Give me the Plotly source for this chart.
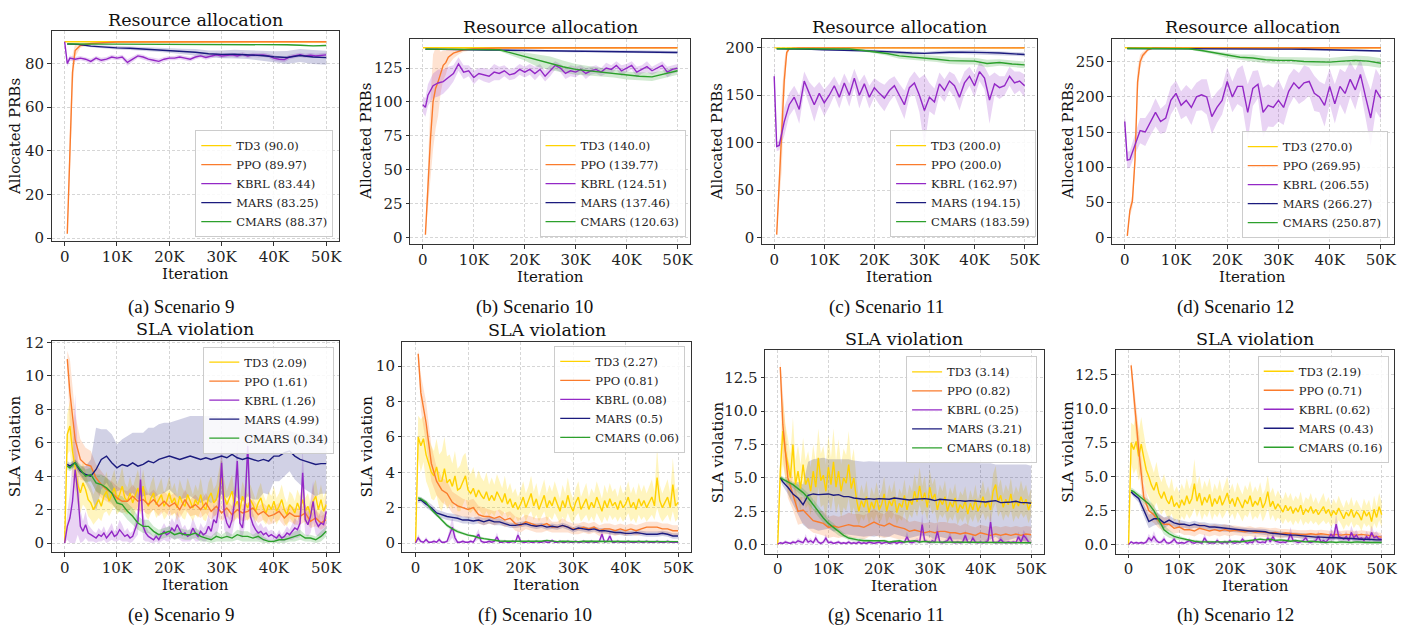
import plotly.graph_objects as go

W, H = 1413, 633

# ---------------- x grids (iterations) ----------------
X_FINE = [0, 500, 1000, 1500, 2000, 2500, 3000, 3500, 4000, 4500,
          5000, 5500, 6000, 6500, 7000, 7500, 8000, 8500, 9000, 9500,
          10000, 10500, 11000, 11500, 12000, 12500, 13000, 13500, 14000, 14500,
          15000, 15500, 16000, 16500, 17000, 17500, 18000, 18500, 19000, 19500,
          20000, 20500, 21000, 21500, 22000, 22500, 23000, 23500, 24000, 24500,
          25000, 25500, 26000, 26500, 27000, 27500, 28000, 28500, 29000, 29500,
          30000, 30500, 31000, 31500, 32000, 32500, 33000, 33500, 34000, 34500,
          35000, 35500, 36000, 36500, 37000, 37500, 38000, 38500, 39000, 39500,
          40000, 40500, 41000, 41500, 42000, 42500, 43000, 43500, 44000, 44500,
          45000, 45500, 46000, 46500, 47000, 47500, 48000, 48500, 49000, 49500,
          50000]
X_MID = [500,
         1000, 2000, 3000, 4000, 5000, 6000, 7000, 8000, 9000, 10000,
         11000, 12000, 13000, 14000, 15000, 16000, 17000, 18000, 19000, 20000,
         21000, 22000, 23000, 24000, 25000, 26000, 27000, 28000, 29000, 30000,
         31000, 32000, 33000, 34000, 35000, 36000, 37000, 38000, 39000, 40000,
         41000, 42000, 43000, 44000, 45000, 46000, 47000, 48000, 49000, 50000]
X_TOPK = [0, 500,
          1000, 2000, 3000, 4000, 5000, 6000, 7000, 8000, 9000, 10000,
          11000, 12000, 13000, 14000, 15000, 16000, 17000, 18000, 19000, 20000,
          21000, 22000, 23000, 24000, 25000, 26000, 27000, 28000, 29000, 30000,
          31000, 32000, 33000, 34000, 35000, 36000, 37000, 38000, 39000, 40000,
          41000, 42000, 43000, 44000, 45000, 46000, 47000, 48000, 49000, 50000]
X_COARSE = [500, 2500, 5000, 7500, 10000, 12500, 15000, 17500, 20000, 22500, 25000,
            27500, 30000, 32500, 35000, 37500, 40000, 42500, 45000, 47500, 50000]
X_CONST = [0, 50000]

X_TICKS = [0, 10000, 20000, 30000, 40000, 50000]
X_TICK_LABELS = ["0", "10K", "20K", "30K", "40K", "50K"]

METHODS = ["TD3", "PPO", "KBRL", "MARS", "CMARS"]
AVG_A = ["90.0", "89.97", "83.44", "83.25", "88.37"]
AVG_B = ["140.0", "139.77", "124.51", "137.46", "120.63"]
AVG_C = ["200.0", "200.0", "162.97", "194.15", "183.59"]
AVG_D = ["270.0", "269.95", "206.55", "266.27", "250.87"]
AVG_E = ["2.09", "1.61", "1.26", "4.99", "0.34"]
AVG_F = ["2.27", "0.81", "0.08", "0.5", "0.06"]
AVG_G = ["3.14", "0.82", "0.25", "3.21", "0.18"]
AVG_H = ["2.19", "0.71", "0.62", "0.43", "0.16"]

# ================= Panel (a) Scenario 9, resource =================
A_TD3 = [90.0, 90.0]
A_PPO_X = [500, 1000, 1500, 2000, 3000, 5000, 8000, 10000, 50000]
A_PPO = [2, 40, 76, 86, 88.3, 89.2, 89.7, 89.9, 90]
A_PPO_SD = [0.5, 12, 8, 3, 1, 0.5, 0.2, 0.1, 0]
A_KBRL = [90, 80,
          82.5, 82, 82.5, 82, 81, 82.5, 81.5, 82, 83, 82.5,
          83, 80.5, 82, 83.5, 83, 82, 81.5, 81, 82, 82.5,
          82.5, 83, 82.5, 82, 83, 83.5, 82.8, 83.5, 84, 83.5,
          83.8, 84, 83.5, 84.2, 83.5, 84, 83.8, 84, 83.5, 82.5,
          82, 81.8, 83, 83.5, 84, 83.5, 83.8, 83.5, 83.8, 84]
A_KBRL_SD = [0.3, 1.5,
             1.2, 1, 1, 1, 1.2, 1, 1.2, 1, 1, 1,
             1, 1.5, 1.2, 1, 1, 1, 1.2, 1.2, 1, 1,
             1, 1, 1, 1, 1, 1, 1, 1, 1, 1,
             1, 1, 1, 1, 1, 1, 1, 1, 1, 1.2,
             1.2, 1.2, 1, 1, 1, 1, 1, 1, 1, 1]
A_MARS = [89, 88.8, 88, 87.5, 87.2, 87, 86.7, 86.4, 86, 85.6, 85.2,
          84.5, 84.2, 84.3, 84.1, 83.7, 83.1, 82.8, 83.7, 83, 82.7]
A_MARS_SD = [0.2, 0.3, 0.5, 0.6, 0.8, 0.8, 0.8, 1.0, 1.0, 1.2, 1.5,
             1.5, 1.8, 2.0, 2.0, 2.2, 2.5, 3.0, 3.0, 3.2, 3.2]
A_CMARS = [89, 88.9, 88.9, 88.9, 88.9, 88.9, 88.9, 88.9, 88.9, 88.9, 88.9,
           88.9, 88.9, 88.8, 88.8, 88.7, 88.7, 88.6, 88.4, 88.1, 88.3]
A_CMARS_SD = [0.2, 0.2, 0.2, 0.2, 0.2, 0.2, 0.2, 0.2, 0.2, 0.2, 0.2,
              0.2, 0.2, 0.2, 0.2, 0.2, 0.2, 0.2, 0.3, 0.3, 0.3]

# ================= Panel (b) Scenario 10, resource =================
B_TD3 = [140.0, 140.0]
B_PPO_X = [500, 1000, 1500, 2000, 2500, 3000, 3500, 4000, 4500, 5000, 6000, 7000, 8000, 10000, 15000, 50000]
B_PPO = [2, 40, 73, 100, 110, 115, 122, 127, 129, 133, 136, 137.5, 138.5, 139.2, 139.8, 140]
B_PPO_SD = [1, 20, 30, 35, 30, 25, 15, 11, 9, 6, 4, 2.5, 1.5, 0.8, 0.2, 0]
B_KBRL = [98, 96,
          105, 112, 114, 115, 118, 121, 128, 122, 123, 118,
          121, 120, 119, 122, 121, 123, 120, 121, 124, 122,
          124, 121, 124, 119, 123, 127, 125, 121, 123, 122,
          124, 121, 123, 124, 122, 125, 124, 127, 123, 125,
          127, 122, 124, 126, 123, 125, 127, 122, 124, 125]
B_KBRL_SD = [6, 7,
             8, 9, 10, 9, 8, 6, 5, 5, 4, 5,
             4, 5, 5, 6, 5, 4, 4, 4, 4, 4,
             4, 5, 4, 4, 4, 3, 3, 4, 4, 4,
             3, 4, 3, 3, 3, 4, 3, 3, 4, 3,
             3, 4, 3, 4, 3, 3, 3, 4, 3, 3]
B_MARS = [139, 138.8, 138.6, 138.5, 138.4, 138.3, 138.2, 138.1, 138, 137.9, 137.8,
          137.6, 137.3, 137.4, 137.5, 137.4, 137.3, 137.2, 137, 136.7, 136.5]
B_MARS_SD = [0.3, 0.4, 0.4, 0.5, 0.5, 0.5, 0.5, 0.6, 0.6, 0.6, 0.7,
             0.7, 0.8, 0.8, 0.8, 0.8, 0.9, 0.9, 1.0, 1.0, 1.0]
B_CMARS = [139, 139, 139, 139, 139, 138.8, 138.5, 136, 133.5, 130.5, 128.5,
           126, 124, 123, 122, 121, 119.5, 119, 118.5, 120.5, 123]
B_CMARS_SD = [0.3, 0.3, 0.3, 0.3, 0.4, 0.5, 1, 2, 3, 4.5, 5,
              4.5, 4, 3.5, 3, 3, 3, 3, 3, 3, 3]

# ================= Panel (c) Scenario 11, resource =================
C_TD3 = [200.0, 200.0]
C_PPO_X = [500, 1000, 1500, 2000, 2500, 3000, 5000, 50000]
C_PPO = [3, 55, 110, 165, 195, 199, 200, 200]
C_PPO_SD = [1, 15, 40, 20, 5, 1, 0, 0]
C_KBRL = [170, 96,
          97, 122, 140, 148, 135, 165, 152, 140, 152, 142,
          150, 160, 148, 163, 150, 168, 150, 162, 148, 158,
          152, 147, 155, 160, 150, 140, 158, 163, 150, 134,
          148, 143, 162, 155, 165, 160, 148, 163, 170, 160,
          175, 168, 145, 162, 158, 160, 170, 163, 165, 160]
C_KBRL_SD = [15, 5,
             5, 15, 12, 12, 15, 10, 12, 18, 12, 14,
             12, 10, 12, 10, 12, 10, 14, 10, 12, 10,
             12, 14, 12, 10, 12, 15, 10, 12, 18, 38,
             15, 14, 12, 12, 10, 12, 14, 12, 10, 12,
             10, 12, 25, 12, 12, 10, 10, 12, 10, 12]
C_MARS = [199, 199, 198.8, 198.5, 198, 197.8, 197.5, 197, 196.5, 196, 195,
          194.5, 194.2, 195, 195.3, 195.5, 195.5, 195, 194.5, 193.5, 193]
C_MARS_SD = [0.3, 0.4, 0.5, 0.6, 0.8, 1, 1, 1.2, 1.5, 1.5, 1.5,
             1.5, 1.5, 1.8, 2, 2, 2, 2, 2, 2, 2]
C_CMARS = [199, 199, 199, 199, 199, 199, 198.8, 197.5, 196, 194, 191.5,
           190.5, 189, 188, 186.5, 186, 186, 183.5, 184.5, 183, 182]
C_CMARS_SD = [0.3, 0.3, 0.3, 0.3, 0.3, 0.4, 0.6, 1, 1.5, 2, 3,
              3, 3, 3, 3.5, 3.5, 3.5, 4, 3.5, 3.5, 3.5]

# ================= Panel (d) Scenario 12, resource =================
D_TD3 = [270.0, 270.0]
D_PPO_X = [500, 1000, 1500, 2000, 2500, 3000, 3500, 4500, 5500, 50000]
D_PPO = [2, 38, 52, 110, 221, 250, 259, 267, 269.5, 270]
D_PPO_SD = [1, 8, 10, 15, 20, 10, 5, 2, 0.5, 0]
D_KBRL = [165, 110,
          111, 133, 152, 150, 163, 178, 165, 170, 195, 205,
          188, 195, 185, 200, 203, 200, 172, 185, 195, 222,
          200, 215, 215, 178, 212, 218, 178, 188, 185, 195,
          185, 208, 220, 212, 220, 222, 205, 200, 188, 215,
          190, 215, 205, 225, 210, 232, 200, 170, 210, 198]
D_KBRL_SD = [15, 12,
             12, 15, 18, 20, 18, 20, 18, 20, 20, 18,
             20, 22, 25, 20, 22, 25, 25, 22, 20, 20,
             22, 25, 30, 40, 25, 20, 35, 30, 28, 30,
             25, 22, 20, 22, 25, 20, 25, 22, 30, 25,
             28, 25, 30, 25, 28, 22, 30, 40, 30, 30]
D_MARS = [269, 269, 269, 269, 269, 269, 269, 269, 269, 268.8, 268.5,
          268.3, 268, 268, 267.8, 267.5, 267.3, 267, 266.7, 266.2, 265.5]
D_MARS_SD = [0.3, 0.3, 0.3, 0.3, 0.3, 0.3, 0.4, 0.4, 0.5, 0.5, 0.6,
             0.6, 0.7, 0.7, 0.8, 0.8, 0.9, 0.9, 1, 1, 1]
D_CMARS = [269, 269, 269, 269, 269, 268.5, 266, 263, 259, 256.5, 255.5,
           253, 252, 252, 250.5, 250, 249.5, 251, 252, 251, 248]
D_CMARS_SD = [0.3, 0.3, 0.3, 0.3, 0.3, 0.8, 1.5, 2.5, 3.5, 4, 5,
              5, 5, 5, 5.5, 6, 6, 6.5, 7, 7, 7]

# ================= Panel (e) Scenario 9, SLA =================
E_TD3 = [0, 6.5, 7.0, 5.5, 4.5, 3.5, 3.0, 3.6, 3.2, 2.6,
         2.4, 2.0, 2.3, 2.6, 2.2, 2.8, 3.1, 2.5, 2.9, 3.3,
         2.6, 2.9, 3.4, 2.7, 2.5, 3.0, 2.4, 2.8, 3.3, 2.6,
         3.4, 2.5, 2.2, 2.7, 3.0, 2.3, 2.6, 2.9, 2.2, 2.5,
         3.0, 2.4, 2.7, 2.1, 2.8, 2.4, 2.2, 2.9, 2.5, 2.1,
         2.6, 2.3, 2.9, 2.2, 2.0, 2.7, 3.0, 2.4, 2.6, 3.3,
         3.9, 2.8, 2.3, 2.7, 3.1, 2.2, 2.5, 2.0, 2.8, 2.4,
         2.1, 2.6, 2.3, 1.9, 2.4, 2.7, 2.1, 1.8, 2.3, 2.0,
         2.5, 1.9, 2.2, 2.6, 2.0, 1.7, 2.3, 2.1, 1.8, 2.4,
         2.0, 2.6, 1.9, 2.2, 1.7, 2.5, 2.8, 2.0, 2.6, 1.9,
         2.3]
E_TD3_SD = [0, 1.2, 1.5, 1.5, 1.3, 1.2, 1.2, 1.3, 1.1, 1.0,
            1.0, 0.9, 1.0, 1.1, 0.9, 1.0, 1.2, 0.9, 1.0, 1.1,
            0.9, 1.0, 1.2, 0.9, 0.8, 1.0, 0.9, 1.0, 1.1, 0.9,
            1.0, 0.9, 0.8, 0.9, 1.0, 0.8, 0.9, 1.0, 0.8, 0.9,
            1.0, 0.8, 0.9, 0.8, 1.0, 0.9, 0.8, 1.0, 0.9, 0.8,
            0.9, 0.8, 1.0, 0.8, 0.7, 0.9, 1.0, 0.8, 0.9, 1.1,
            1.3, 1.0, 0.8, 0.9, 1.0, 0.8, 0.9, 0.7, 0.9, 0.8,
            0.8, 0.9, 0.8, 0.7, 0.8, 0.9, 0.8, 0.7, 0.8, 0.8,
            0.9, 0.8, 0.8, 0.9, 0.8, 0.7, 0.8, 0.8, 0.7, 0.8,
            0.8, 0.9, 0.8, 0.8, 0.7, 0.9, 1.0, 0.8, 0.9, 0.8,
            0.9]
E_KBRL = [0, 1.0, 1.5, 2.5, 4.4, 3.0, 1.0, 0.7, 1.1, 0.6,
          0.5, 0.4, 0.3, 0.5, 0.4, 0.6, 0.3, 0.5, 0.7, 0.4,
          0.5, 0.8, 0.6, 0.4, 0.5, 0.3, 0.4, 0.8, 1.3, 3.8,
          1.0, 0.6, 0.4, 0.3, 0.2, 0.4, 0.2, 0.5, 0.7, 0.5,
          0.6, 0.9, 0.7, 1.1, 0.8, 0.5, 0.6, 0.4, 0.5, 0.9,
          0.6, 0.4, 0.7, 0.5, 0.6, 1.0, 0.7, 1.4, 1.2, 2.2,
          4.8, 1.8, 1.2, 0.9, 1.4, 2.5, 4.9, 1.2, 0.9, 2.4,
          5.8, 1.6, 1.1, 0.8, 0.6, 0.7, 0.5, 0.6, 0.4, 0.5,
          0.4, 0.3, 0.5, 0.3, 0.4, 0.6, 0.5, 0.7, 0.9, 0.8,
          1.2, 4.2, 1.4, 1.1, 1.6, 2.5, 1.3, 1.0, 1.2, 1.1,
          1.9]
E_KBRL_SD = [0, 0.8, 1.5, 2.5, 4.5, 2.5, 1.0, 0.6, 0.8, 0.5,
             0.4, 0.3, 0.3, 0.4, 0.3, 0.4, 0.3, 0.4, 0.5, 0.3,
             0.4, 0.6, 0.5, 0.3, 0.4, 0.3, 0.3, 0.5, 0.8, 1.0,
             0.8, 0.5, 0.3, 0.3, 0.2, 0.3, 0.2, 0.4, 0.5, 0.4,
             0.5, 0.6, 0.5, 0.8, 0.6, 0.4, 0.5, 0.3, 0.4, 0.6,
             0.5, 0.3, 0.5, 0.4, 0.5, 0.7, 0.5, 0.9, 0.8, 1.2,
             1.5, 1.0, 0.8, 0.6, 0.9, 1.2, 1.2, 0.8, 0.6, 1.3,
             1.0, 1.0, 0.7, 0.5, 0.4, 0.5, 0.4, 0.4, 0.3, 0.3,
             0.3, 0.2, 0.3, 0.2, 0.3, 0.4, 0.3, 0.5, 0.6, 0.5,
             0.8, 1.5, 0.9, 0.7, 1.0, 1.2, 0.8, 0.6, 0.8, 0.7,
             1.0]
E_PPO = [11.0,
         9.0, 6.2, 5.0, 4.7, 4.6, 3.9, 3.5, 3.2, 3.0, 2.7,
         2.5, 2.5, 2.8, 2.5, 2.6, 2.3, 2.6, 2.2, 2.5, 2.2,
         2.4, 2.0, 2.6, 2.1, 2.3, 2.0, 2.4, 1.9, 2.2, 1.8,
         2.1, 1.7, 2.0, 1.8, 1.9, 2.1, 1.7, 1.9, 1.6, 1.7,
         1.9, 1.5, 1.8, 1.6, 1.6, 1.8, 1.3, 1.5, 1.2, 1.4]
E_PPO_SD = [0.5,
            2.0, 1.5, 1.2, 1.0, 0.9, 0.8, 0.8, 0.7, 0.7, 0.7,
            0.7, 0.6, 0.7, 0.6, 0.7, 0.6, 0.6, 0.6, 0.6, 0.6,
            0.6, 0.5, 0.6, 0.5, 0.6, 0.5, 0.6, 0.5, 0.5, 0.5,
            0.5, 0.5, 0.5, 0.5, 0.5, 0.5, 0.5, 0.5, 0.5, 0.5,
            0.5, 0.5, 0.5, 0.5, 0.5, 0.5, 0.4, 0.5, 0.4, 0.4]
E_MARS = [4.7,
          4.6, 4.8, 4.3, 4.1, 4.0, 4.4, 5.0, 5.2, 4.8, 4.5,
          4.7, 4.6, 4.8, 4.6, 4.7, 4.9, 4.8, 5.0, 5.1, 5.2,
          5.1, 5.0, 5.1, 5.2, 5.1, 5.0, 5.1, 5.0, 5.1, 5.2,
          5.1, 5.3, 5.1, 5.0, 5.1, 5.0, 4.9, 5.0, 4.9, 5.2,
          5.2, 5.4, 5.5, 5.2, 5.0, 4.9, 4.8, 4.7, 4.75, 4.75]
E_MARS_SD = [0.2,
             0.2, 0.2, 0.3, 0.5, 1.0, 2.5, 1.8, 1.6, 1.7, 1.4,
             1.5, 1.8, 1.8, 2.0, 1.9, 2.0, 2.1, 2.1, 2.1, 2.0,
             2.2, 2.4, 2.4, 2.4, 2.5, 2.6, 2.5, 2.6, 2.5, 2.3,
             2.4, 2.3, 2.4, 2.5, 2.3, 2.4, 2.3, 2.0, 2.0, 1.5,
             1.5, 1.4, 1.2, 1.4, 1.5, 1.7, 1.8, 1.9, 1.8, 1.8]
E_CMARS = [4.6,
           4.5, 4.8, 4.4, 4.0, 4.1, 3.6, 3.5, 3.3, 3.0, 2.4,
           2.3, 1.9, 1.6, 1.2, 1.0, 1.0, 0.7, 0.5, 0.6, 0.7,
           0.5, 0.6, 0.5, 0.5, 0.6, 0.4, 0.3, 0.2, 0.4, 0.3,
           0.4, 0.3, 0.5, 0.4, 0.4, 0.3, 0.4, 0.2, 0.1, 0.1,
           0.2, 0.2, 0.3, 0.4, 0.5, 0.3, 0.3, 0.2, 0.4, 0.7]
E_CMARS_SD = [0.2,
              0.2, 0.2, 0.3, 0.4, 0.4, 0.5, 0.6, 0.6, 0.6, 0.5,
              0.5, 0.5, 0.5, 0.4, 0.4, 0.4, 0.3, 0.3, 0.3, 0.3,
              0.3, 0.3, 0.3, 0.3, 0.3, 0.3, 0.2, 0.2, 0.3, 0.2,
              0.3, 0.2, 0.3, 0.3, 0.3, 0.2, 0.3, 0.2, 0.1, 0.1,
              0.2, 0.2, 0.2, 0.3, 0.3, 0.2, 0.2, 0.2, 0.3, 0.3]

# ================= Panel (f) Scenario 10, SLA =================
F_TD3 = [0, 6.0, 5.5, 5.9, 5.0, 4.5, 4.0, 3.8, 4.3, 3.5,
         3.5, 4.2, 3.4, 3.6, 3.2, 3.8, 3.0, 3.1, 3.5, 3.8,
         3.0, 2.8, 3.1, 2.6, 3.0, 2.7, 2.5, 2.9, 2.4, 2.7,
         2.4, 2.9, 2.6, 2.3, 2.8, 2.2, 2.5, 2.0, 2.3, 1.9,
         2.2, 2.6, 2.0, 2.4, 2.8, 2.1, 2.5, 1.9, 2.3, 2.7,
         2.0, 2.4, 2.1, 2.6, 2.2, 1.8, 2.4, 2.0, 2.7, 2.1,
         1.8, 2.3, 2.6, 1.9, 2.2, 2.5, 1.9, 2.3, 2.0, 2.6,
         2.2, 1.8, 2.4, 2.0, 2.5, 2.1, 2.3, 1.9, 2.4, 2.0,
         2.2, 2.6, 2.0, 2.3, 1.9, 2.5, 2.1, 2.4, 2.0, 2.3,
         2.6, 2.1, 3.7, 2.4, 2.0, 2.3, 2.6, 2.0, 3.3, 2.1,
         2.3]
F_TD3_SD = [0, 1.2, 1.5, 1.3, 1.5, 1.4, 1.5, 1.4, 1.6, 1.5,
            1.7, 1.8, 1.5, 1.4, 1.3, 1.4, 1.2, 1.3, 1.4, 1.3,
            1.2, 1.1, 1.2, 1.0, 1.1, 1.0, 1.0, 1.1, 0.9, 1.0,
            0.9, 1.0, 0.9, 0.8, 1.0, 0.8, 0.9, 0.8, 0.8, 0.7,
            0.8, 0.9, 0.8, 0.8, 1.0, 0.8, 0.9, 0.7, 0.8, 0.9,
            0.8, 0.9, 0.8, 0.9, 0.8, 0.7, 0.9, 0.8, 1.0, 0.8,
            0.7, 0.8, 0.9, 0.7, 0.8, 0.9, 0.7, 0.8, 0.8, 0.9,
            0.8, 0.7, 0.9, 0.8, 0.9, 0.8, 0.8, 0.7, 0.9, 0.8,
            0.8, 0.9, 0.8, 0.9, 0.8, 0.9, 0.8, 0.9, 0.8, 0.9,
            1.0, 0.8, 1.7, 0.9, 0.8, 0.9, 1.0, 0.8, 1.5, 0.9,
            0.9]
F_KBRL = [0, 0.3, 0.1, 0.05, 0.2, 0.05, 0.05, 0.1, 0.05, 0.2,
          0.05, 0.05, 0.1, 0.5, 0.9, 0.3, 0.05, 0.05, 0.1, 0.05,
          0.05, 0.1, 0.05, 0.3, 0.5, 0.1, 0.05, 0.05, 0.1, 0.05,
          0.1, 0.35, 0.05, 0.05, 0.1, 0.05, 0.05, 0.1, 0.05, 0.45,
          0.1, 0.05, 0.05, 0.1, 0.05, 0.05, 0.1, 0.05, 0.05, 0.1,
          0.05, 0.05, 0.15, 0.05, 0.05, 0.1, 0.05, 0.05, 0.1, 0.05,
          0.05, 0.1, 0.05, 0.05, 0.1, 0.05, 0.05, 0.1, 0.05, 0.05,
          0.1, 0.5, 0.05, 0.1, 0.4, 0.05, 0.05, 0.1, 0.05, 0.05,
          0.05, 0.1, 0.05, 0.05, 0.05, 0.1, 0.05, 0.05, 0.1, 0.05,
          0.05, 0.05, 0.1, 0.05, 0.05, 0.05, 0.1, 0.05, 0.05, 0.05,
          0.05]
F_KBRL_SD = [0, 0.2, 0.1, 0.05, 0.15, 0.05, 0.05, 0.1, 0.05, 0.15,
             0.05, 0.05, 0.1, 0.4, 0.6, 0.3, 0.05, 0.05, 0.1, 0.05,
             0.05, 0.1, 0.05, 0.2, 0.3, 0.1, 0.05, 0.05, 0.1, 0.05,
             0.1, 0.25, 0.05, 0.05, 0.1, 0.05, 0.05, 0.1, 0.05, 0.3,
             0.1, 0.05, 0.05, 0.1, 0.05, 0.05, 0.1, 0.05, 0.05, 0.1,
             0.05, 0.05, 0.1, 0.05, 0.05, 0.1, 0.05, 0.05, 0.1, 0.05,
             0.05, 0.1, 0.05, 0.05, 0.1, 0.05, 0.05, 0.1, 0.05, 0.05,
             0.1, 0.3, 0.05, 0.1, 0.3, 0.05, 0.05, 0.1, 0.05, 0.05,
             0.05, 0.1, 0.05, 0.05, 0.05, 0.1, 0.05, 0.05, 0.1, 0.05,
             0.05, 0.05, 0.1, 0.05, 0.05, 0.05, 0.1, 0.05, 0.05, 0.05,
             0.05]
F_PPO = [10.7,
         8.5, 6.8, 4.5, 3.5, 3.0, 2.8, 2.3, 2.1, 2.0, 1.9,
         2.0, 1.6, 1.5, 1.5, 1.4, 1.5, 1.3, 1.4, 1.1, 1.0,
         1.2, 1.1, 1.0, 1.0, 1.1, 0.9, 0.9, 1.0, 0.9, 0.8,
         0.8, 0.9, 0.8, 0.9, 0.7, 0.8, 0.8, 0.7, 0.8, 0.7,
         0.8, 0.7, 0.8, 0.9, 0.9, 0.9, 0.8, 0.8, 0.7, 0.7]
F_PPO_SD = [0.3,
            1.0, 1.2, 1.0, 0.8, 0.7, 0.7, 0.6, 0.6, 0.5, 0.5,
            0.5, 0.5, 0.5, 0.4, 0.4, 0.4, 0.4, 0.4, 0.4, 0.4,
            0.4, 0.4, 0.4, 0.4, 0.4, 0.3, 0.3, 0.4, 0.3, 0.3,
            0.3, 0.3, 0.3, 0.3, 0.3, 0.3, 0.3, 0.3, 0.3, 0.3,
            0.3, 0.3, 0.3, 0.3, 0.3, 0.3, 0.3, 0.3, 0.3, 0.3]
F_MARS = [2.4,
          2.45, 2.2, 2.0, 1.7, 1.6, 1.5, 1.45, 1.4, 1.3, 1.3,
          1.25, 1.3, 1.2, 1.3, 1.2, 1.2, 1.1, 1.0, 1.0, 1.05,
          1.1, 1.0, 0.95, 1.0, 0.9, 0.95, 0.9, 1.0, 0.9, 0.75,
          0.85, 0.8, 0.75, 0.8, 0.7, 0.7, 0.65, 0.6, 0.6, 0.55,
          0.55, 0.6, 0.55, 0.5, 0.5, 0.5, 0.55, 0.5, 0.4, 0.4]
F_MARS_SD = [0.15,
             0.15, 0.2, 0.2, 0.2, 0.2, 0.2, 0.2, 0.2, 0.2, 0.2,
             0.2, 0.2, 0.2, 0.2, 0.2, 0.2, 0.15, 0.15, 0.15, 0.15,
             0.15, 0.15, 0.15, 0.15, 0.15, 0.15, 0.15, 0.15, 0.15, 0.15,
             0.15, 0.15, 0.15, 0.15, 0.15, 0.15, 0.15, 0.15, 0.15, 0.15,
             0.15, 0.15, 0.15, 0.15, 0.15, 0.15, 0.15, 0.15, 0.15, 0.15]
F_CMARS = [2.55,
           2.5, 2.3, 1.9, 1.6, 1.3, 1.0, 0.8, 0.65, 0.55, 0.45,
           0.4, 0.3, 0.25, 0.2, 0.15, 0.12, 0.1, 0.1, 0.1, 0.08,
           0.08, 0.1, 0.08, 0.1, 0.15, 0.1, 0.08, 0.1, 0.08, 0.1,
           0.08, 0.1, 0.1, 0.08, 0.1, 0.08, 0.08, 0.1, 0.08, 0.08,
           0.1, 0.08, 0.08, 0.1, 0.08, 0.08, 0.1, 0.08, 0.08, 0.08]
F_CMARS_SD = [0.1,
              0.1, 0.1, 0.1, 0.1, 0.1, 0.1, 0.1, 0.1, 0.08, 0.08,
              0.06, 0.06, 0.06, 0.06, 0.06, 0.06, 0.06, 0.06, 0.06, 0.06,
              0.05, 0.05, 0.05, 0.05, 0.05, 0.05, 0.05, 0.05, 0.05, 0.05,
              0.05, 0.05, 0.05, 0.05, 0.05, 0.05, 0.05, 0.05, 0.05, 0.05,
              0.05, 0.05, 0.05, 0.05, 0.05, 0.05, 0.05, 0.05, 0.05, 0.05]

# ================= Panel (g) Scenario 11, SLA =================
G_TD3 = [0, 5.5, 8.5, 7.0, 6.0, 5.0, 7.5, 4.5, 5.5, 4.2,
         6.0, 4.5, 5.0, 4.0, 5.5, 4.3, 6.5, 4.8, 5.2, 4.0,
         5.8, 4.5, 6.2, 4.3, 5.5, 4.0, 5.0, 4.6, 6.0, 4.2,
         5.0, 3.5, 2.5, 3.3, 2.8, 3.6, 2.4, 3.2, 2.7, 3.5,
         2.6, 3.0, 3.8, 2.5, 3.3, 2.9, 3.6, 2.4, 3.1, 2.8,
         3.7, 2.6, 3.4, 3.0, 4.0, 3.2, 4.4, 3.3, 3.9, 2.8,
         4.3, 3.4, 3.8, 2.6, 3.4, 3.0, 3.6, 2.5, 3.2, 2.8,
         3.5, 2.4, 3.0, 2.7, 3.3, 2.3, 3.1, 2.6, 3.4, 2.5,
         3.0, 3.6, 2.8, 3.3, 2.6, 4.0, 4.5, 3.2, 3.7, 2.8,
         3.4, 3.0, 3.8, 2.7, 3.3, 2.9, 3.6, 3.0, 3.4, 2.6,
         3.2]
G_TD3_SD = [0, 1.5, 2.5, 2.0, 2.0, 1.8, 2.0, 1.8, 2.0, 1.8,
            2.0, 1.8, 2.0, 1.8, 2.0, 1.9, 2.2, 2.0, 2.2, 2.0,
            2.4, 2.0, 2.5, 2.0, 2.4, 2.0, 2.2, 2.1, 2.5, 2.0,
            2.2, 1.5, 1.0, 1.2, 1.0, 1.2, 0.9, 1.1, 1.0, 1.2,
            1.0, 1.1, 1.3, 1.0, 1.2, 1.0, 1.2, 0.9, 1.1, 1.0,
            1.2, 1.0, 1.1, 1.0, 1.3, 1.1, 1.4, 1.1, 1.3, 1.0,
            1.3, 1.1, 1.2, 1.0, 1.1, 1.0, 1.2, 0.9, 1.1, 1.0,
            1.1, 0.9, 1.0, 1.0, 1.1, 0.9, 1.0, 0.9, 1.1, 0.9,
            1.0, 1.2, 1.0, 1.1, 1.0, 1.3, 1.4, 1.1, 1.2, 1.0,
            1.1, 1.0, 1.2, 1.0, 1.1, 1.0, 1.2, 1.0, 1.1, 1.0,
            1.0]
G_KBRL = [0.05, 0.15, 0.1, 0.2, 0.15, 0.1, 0.2, 0.15, 0.3, 0.2,
          0.15, 0.5, 0.2, 0.3, 0.15, 0.5, 0.2, 0.1, 0.2, 0.5,
          0.15, 0.2, 0.1, 0.15, 0.2, 0.1, 0.15, 0.1, 0.2, 0.1,
          0.15, 0.1, 0.2, 0.1, 0.15, 0.1, 0.2, 0.15, 0.1, 0.15,
          0.2, 0.1, 0.15, 0.2, 0.1, 0.15, 0.2, 0.1, 0.2, 0.15,
          0.2, 0.6, 0.2, 0.15, 0.2, 0.3, 0.2, 1.5, 0.3, 0.2,
          0.15, 0.3, 0.2, 1.0, 0.2, 0.15, 0.2, 0.3, 0.6, 0.2,
          0.15, 0.2, 0.15, 0.2, 0.7, 0.2, 0.15, 0.5, 0.2, 0.15,
          0.2, 0.15, 0.2, 0.3, 1.7, 0.2, 0.15, 0.2, 0.4, 0.2,
          0.15, 0.2, 0.15, 0.2, 0.15, 0.6, 0.2, 0.7, 0.5, 0.2,
          0.15]
G_KBRL_SD = [0, 0.1, 0.1, 0.15, 0.1, 0.1, 0.15, 0.1, 0.2, 0.15,
             0.1, 0.3, 0.15, 0.2, 0.1, 0.3, 0.15, 0.1, 0.15, 0.3,
             0.1, 0.15, 0.1, 0.1, 0.15, 0.1, 0.1, 0.1, 0.15, 0.1,
             0.1, 0.1, 0.15, 0.1, 0.1, 0.1, 0.15, 0.1, 0.1, 0.1,
             0.15, 0.1, 0.1, 0.15, 0.1, 0.1, 0.15, 0.1, 0.15, 0.1,
             0.15, 0.4, 0.15, 0.1, 0.15, 0.2, 0.15, 0.8, 0.2, 0.15,
             0.1, 0.2, 0.15, 0.6, 0.15, 0.1, 0.15, 0.2, 0.4, 0.15,
             0.1, 0.15, 0.1, 0.15, 0.4, 0.15, 0.1, 0.3, 0.15, 0.1,
             0.15, 0.1, 0.15, 0.2, 0.8, 0.15, 0.1, 0.15, 0.3, 0.15,
             0.1, 0.15, 0.1, 0.15, 0.1, 0.4, 0.15, 0.4, 0.3, 0.15,
             0.1]
G_PPO = [13.3,
         9.0, 5.0, 3.8, 2.5, 2.6, 2.2, 1.8, 1.7, 1.6, 1.3,
         1.4, 1.3, 1.4, 1.5, 1.4, 1.4, 1.3, 1.5, 1.7, 1.5,
         1.4, 1.6, 1.4, 1.3, 1.2, 1.0, 1.1, 1.0, 0.9, 1.0,
         0.9, 1.0, 1.0, 0.9, 0.9, 0.8, 0.9, 0.8, 0.7, 0.9,
         0.8, 0.7, 0.8, 0.7, 0.8, 0.7, 0.8, 0.7, 0.8, 0.75]
G_PPO_SD = [0.5,
            2.5, 1.5, 1.2, 1.0, 1.0, 1.0, 0.9, 0.9, 0.9, 0.8,
            0.8, 0.8, 0.8, 0.9, 0.9, 0.9, 0.9, 0.9, 1.0, 0.9,
            0.9, 1.0, 0.9, 0.9, 0.8, 0.7, 0.7, 0.7, 0.7, 0.7,
            0.7, 0.7, 0.7, 0.7, 0.7, 0.6, 0.7, 0.6, 0.6, 0.6,
            0.6, 0.6, 0.6, 0.6, 0.6, 0.6, 0.6, 0.6, 0.6, 0.6]
G_MARS = [5.0,
          4.7, 4.3, 3.8, 3.5, 3.0, 3.7, 3.8, 3.75, 3.8, 3.8,
          3.7, 3.75, 3.6, 3.6, 3.5, 3.45, 3.4, 3.45, 3.4, 3.45,
          3.4, 3.4, 3.5, 3.45, 3.4, 3.35, 3.4, 3.45, 3.45, 3.4,
          3.3, 3.4, 3.35, 3.3, 3.3, 3.3, 3.25, 3.3, 3.25, 3.2,
          3.2, 3.25, 3.3, 3.15, 3.15, 3.2, 3.25, 3.15, 3.15, 3.1]
G_MARS_SD = [0.2,
             0.3, 0.5, 0.8, 1.2, 1.5, 2.5, 2.6, 2.7, 2.7, 2.6,
             2.7, 2.7, 2.8, 2.8, 2.8, 2.8, 2.8, 2.8, 2.8, 2.75,
             2.8, 2.8, 2.7, 2.75, 2.8, 2.85, 2.8, 2.75, 2.75, 2.8,
             2.9, 2.8, 2.85, 2.9, 2.9, 2.9, 2.95, 2.9, 2.95, 2.9,
             2.9, 2.85, 2.7, 2.85, 2.85, 2.8, 2.75, 2.85, 2.85, 2.8]
G_CMARS = [5.0,
           4.9, 4.7, 4.5, 4.2, 3.9, 3.5, 3.0, 2.5, 2.0, 1.6,
           1.3, 0.95, 0.7, 0.5, 0.4, 0.35, 0.3, 0.3, 0.25, 0.25,
           0.3, 0.2, 0.25, 0.3, 0.2, 0.25, 0.3, 0.2, 0.25, 0.2,
           0.2, 0.15, 0.2, 0.18, 0.2, 0.15, 0.2, 0.15, 0.2, 0.18,
           0.15, 0.2, 0.15, 0.18, 0.2, 0.15, 0.15, 0.18, 0.15, 0.15]
G_CMARS_SD = [0.2,
              0.2, 0.2, 0.25, 0.3, 0.3, 0.35, 0.4, 0.4, 0.35, 0.3,
              0.3, 0.25, 0.2, 0.15, 0.15, 0.15, 0.1, 0.1, 0.1, 0.1,
              0.1, 0.1, 0.1, 0.1, 0.1, 0.1, 0.1, 0.1, 0.1, 0.1,
              0.1, 0.1, 0.1, 0.1, 0.1, 0.1, 0.1, 0.1, 0.1, 0.1,
              0.1, 0.1, 0.1, 0.1, 0.1, 0.1, 0.1, 0.1, 0.1, 0.1]

# ================= Panel (h) Scenario 12, SLA =================
H_TD3 = [0, 7.5, 7.0, 7.6, 6.5, 7.4, 6.4, 5.5, 5.0, 4.4,
         4.0, 4.6, 3.8, 3.4, 3.9, 3.3, 3.0, 3.6, 2.8, 3.1,
         2.7, 3.3, 2.9, 3.6, 3.0, 3.4, 4.5, 3.2, 3.8, 2.9,
         3.5, 3.1, 3.7, 2.8, 3.4, 3.0, 3.6, 2.9, 3.3, 3.8,
         3.0, 3.4, 2.8, 3.5, 3.1, 2.7, 3.3, 3.0, 3.6, 2.8,
         3.2, 2.9, 3.5, 2.7, 3.1, 3.9, 2.8, 3.2, 2.6, 3.0,
         2.7, 2.4, 2.9, 2.5, 2.8, 2.3, 2.7, 2.4, 2.9, 2.2,
         2.6, 2.4, 2.8, 2.3, 2.6, 2.2, 2.5, 2.8, 2.3, 2.6,
         2.1, 2.5, 2.2, 2.7, 2.3, 1.9, 2.4, 2.1, 2.6, 2.0,
         2.4, 2.2, 1.8, 2.5, 2.1, 2.4, 1.7, 2.6, 2.0, 2.8,
         2.2]
H_TD3_SD = [0, 1.5, 1.8, 2.0, 1.8, 2.0, 1.8, 1.6, 1.5, 1.4,
            1.3, 1.5, 1.3, 1.2, 1.3, 1.2, 1.1, 1.3, 1.1, 1.2,
            1.1, 1.2, 1.1, 1.3, 1.1, 1.2, 1.8, 1.2, 1.3, 1.1,
            1.2, 1.1, 1.2, 1.0, 1.1, 1.0, 1.2, 1.0, 1.1, 1.2,
            1.0, 1.1, 1.0, 1.1, 1.0, 1.0, 1.1, 1.0, 1.1, 1.0,
            1.1, 1.0, 1.1, 1.0, 1.0, 1.2, 1.0, 1.0, 0.9, 1.0,
            0.9, 0.9, 1.0, 0.9, 1.0, 0.9, 0.9, 0.9, 1.0, 0.8,
            0.9, 0.9, 1.0, 0.8, 0.9, 0.8, 0.9, 1.0, 0.8, 0.9,
            0.8, 0.9, 0.8, 0.9, 0.8, 0.8, 0.9, 0.8, 0.9, 0.8,
            0.9, 0.8, 0.8, 0.9, 0.8, 0.9, 0.8, 1.0, 0.8, 1.0,
            0.9]
H_KBRL = [0, 0.2, 0.1, 0.15, 0.1, 0.15, 0.1, 0.2, 0.5, 0.3,
          0.6, 0.3, 0.15, 0.2, 0.4, 0.15, 0.1, 0.2, 0.4, 0.15,
          0.1, 0.15, 0.1, 0.2, 0.3, 0.15, 0.1, 0.2, 0.15, 0.1,
          0.5, 0.2, 0.1, 0.15, 0.1, 0.3, 0.15, 0.1, 0.2, 0.1,
          0.3, 0.15, 0.1, 0.2, 0.15, 0.4, 0.2, 0.1, 0.2, 0.15,
          0.45, 0.2, 0.15, 0.2, 0.15, 0.5, 0.2, 0.6, 0.25, 0.2,
          0.15, 0.2, 0.15, 0.3, 0.8, 0.3, 0.2, 0.15, 0.2, 0.3,
          0.5, 0.2, 0.15, 0.2, 0.3, 0.6, 0.2, 0.3, 0.2, 0.4,
          0.8, 0.5, 1.5, 0.6, 0.5, 0.4, 0.6, 0.3, 0.9, 0.5,
          0.7, 0.4, 0.5, 0.3, 0.6, 0.4, 0.9, 0.5, 0.6, 0.4,
          0.4]
H_KBRL_SD = [0, 0.1, 0.1, 0.1, 0.1, 0.1, 0.1, 0.15, 0.3, 0.2,
             0.4, 0.2, 0.1, 0.15, 0.25, 0.1, 0.1, 0.15, 0.25, 0.1,
             0.1, 0.1, 0.1, 0.15, 0.2, 0.1, 0.1, 0.15, 0.1, 0.1,
             0.3, 0.15, 0.1, 0.1, 0.1, 0.2, 0.1, 0.1, 0.15, 0.1,
             0.2, 0.1, 0.1, 0.15, 0.1, 0.25, 0.15, 0.1, 0.15, 0.1,
             0.3, 0.15, 0.1, 0.15, 0.1, 0.3, 0.15, 0.35, 0.2, 0.15,
             0.1, 0.15, 0.1, 0.2, 0.5, 0.2, 0.15, 0.1, 0.15, 0.2,
             0.3, 0.15, 0.1, 0.15, 0.2, 0.4, 0.15, 0.2, 0.15, 0.3,
             0.5, 0.35, 0.8, 0.4, 0.35, 0.3, 0.4, 0.25, 0.5, 0.35,
             0.4, 0.3, 0.35, 0.25, 0.4, 0.3, 0.5, 0.35, 0.4, 0.3,
             0.3]
H_PPO = [13.2,
         11.0, 7.0, 3.5, 2.5, 2.2, 1.7, 1.5, 1.5, 1.2, 1.3,
         1.1, 1.1, 1.0, 1.2, 1.1, 1.0, 1.1, 1.0, 1.1, 1.0,
         1.05, 1.0, 0.95, 1.0, 0.9, 0.95, 0.9, 0.85, 0.9, 0.8,
         0.85, 0.8, 0.8, 0.75, 0.75, 0.8, 0.75, 0.8, 0.75, 0.7,
         0.75, 0.7, 0.75, 0.7, 0.7, 0.75, 0.7, 0.7, 0.65, 0.55]
H_PPO_SD = [0.3,
            1.0, 1.5, 1.0, 0.7, 0.6, 0.5, 0.5, 0.5, 0.4, 0.4,
            0.4, 0.4, 0.4, 0.4, 0.4, 0.4, 0.4, 0.4, 0.4, 0.4,
            0.35, 0.35, 0.35, 0.35, 0.35, 0.35, 0.35, 0.35, 0.35, 0.35,
            0.3, 0.3, 0.3, 0.3, 0.3, 0.3, 0.3, 0.3, 0.3, 0.3,
            0.3, 0.3, 0.3, 0.3, 0.3, 0.3, 0.3, 0.3, 0.3, 0.3]
H_MARS = [3.9,
          3.7, 3.4, 2.5, 1.7, 1.9, 1.9, 1.6, 1.8, 1.6, 1.5,
          1.5, 1.4, 1.5, 1.4, 1.4, 1.3, 1.3, 1.25, 1.2, 1.2,
          1.1, 1.1, 1.05, 1.0, 1.0, 1.0, 0.95, 0.85, 0.8, 0.75,
          0.75, 0.7, 0.7, 0.65, 0.6, 0.6, 0.55, 0.55, 0.5, 0.5,
          0.5, 0.45, 0.45, 0.45, 0.4, 0.4, 0.4, 0.35, 0.35, 0.35]
H_MARS_SD = [0.15,
             0.2, 0.3, 0.4, 0.5, 0.5, 0.4, 0.4, 0.35, 0.3, 0.3,
             0.25, 0.25, 0.25, 0.25, 0.25, 0.25, 0.25, 0.25, 0.25, 0.25,
             0.2, 0.2, 0.2, 0.2, 0.2, 0.2, 0.2, 0.2, 0.2, 0.2,
             0.2, 0.2, 0.2, 0.2, 0.2, 0.2, 0.2, 0.2, 0.2, 0.2,
             0.15, 0.15, 0.15, 0.15, 0.15, 0.15, 0.15, 0.15, 0.15, 0.15]
H_CMARS = [4.0,
           3.9, 3.6, 3.3, 3.0, 2.5, 1.8, 1.1, 0.8, 0.6, 0.5,
           0.4, 0.3, 0.25, 0.2, 0.2, 0.2, 0.15, 0.15, 0.2, 0.2,
           0.25, 0.2, 0.25, 0.3, 0.3, 0.4, 0.35, 0.4, 0.3, 0.35,
           0.3, 0.25, 0.3, 0.25, 0.2, 0.25, 0.2, 0.2, 0.15, 0.2,
           0.15, 0.2, 0.15, 0.15, 0.2, 0.15, 0.15, 0.15, 0.15, 0.15]
H_CMARS_SD = [0.2,
              0.2, 0.2, 0.25, 0.3, 0.4, 0.4, 0.35, 0.3, 0.2, 0.15,
              0.1, 0.1, 0.1, 0.1, 0.1, 0.1, 0.1, 0.1, 0.1, 0.1,
              0.1, 0.1, 0.1, 0.1, 0.1, 0.1, 0.1, 0.1, 0.1, 0.1,
              0.1, 0.1, 0.1, 0.1, 0.1, 0.1, 0.1, 0.1, 0.1, 0.1,
              0.1, 0.1, 0.1, 0.1, 0.1, 0.1, 0.1, 0.1, 0.1, 0.1]

# ---------------- styles ----------------
COLORS = {"TD3": "#FFD200", "PPO": "#FA7B2C", "KBRL": "#9328C6",
          "MARS": "#1B1B7E", "CMARS": "#2CA02C"}
FILLS = {"TD3": "rgba(255,215,0,0.25)", "PPO": "rgba(250,123,44,0.22)",
         "KBRL": "rgba(147,40,198,0.2)", "MARS": "rgba(27,27,126,0.2)",
         "CMARS": "rgba(44,160,44,0.22)"}
SERIF = "DejaVu Serif"
CAPFONT = "Liberation Serif"

PANELS = [
    dict(L=51.7, R=340, T=25, B=239.3, yr=[-1.5, 94.7], dtick=20, fmt="",
         ylab="Allocated PRBs", title="Resource allocation", ydx=36,
         cap="(a) Scenario 9", capx=182, capy=306, legx=334, legy=235, top=True, avg=AVG_A,
         series=[(X_CONST, A_TD3, None), (A_PPO_X, A_PPO, A_PPO_SD), (X_TOPK, A_KBRL, A_KBRL_SD),
                 (X_COARSE, A_MARS, A_MARS_SD), (X_COARSE, A_CMARS, A_CMARS_SD)]),
    dict(L=411, R=691.7, T=32.3, B=242.3, yr=[-5, 146.7], dtick=25, fmt="",
         ylab="Allocated PRBs", title="Resource allocation", ydx=44,
         cap="(b) Scenario 10", capx=536, capy=306, legx=687, legy=235, top=True, avg=AVG_B,
         series=[(X_CONST, B_TD3, None), (B_PPO_X, B_PPO, B_PPO_SD), (X_TOPK, B_KBRL, B_KBRL_SD),
                 (X_COARSE, B_MARS, B_MARS_SD), (X_COARSE, B_CMARS, B_CMARS_SD)]),
    dict(L=763.3, R=1039.3, T=32.3, B=242.3, yr=[-7.2, 209.7], dtick=50, fmt="",
         ylab="Allocated PRBs", title="Resource allocation", ydx=44,
         cap="(c) Scenario 11", capx=888, capy=306, legx=1038.3, legy=235, top=True, avg=AVG_C,
         series=[(X_CONST, C_TD3, None), (C_PPO_X, C_PPO, C_PPO_SD), (X_TOPK, C_KBRL, C_KBRL_SD),
                 (X_COARSE, C_MARS, C_MARS_SD), (X_COARSE, C_CMARS, C_CMARS_SD)]),
    dict(L=1114.3, R=1396.7, T=32.3, B=242.3, yr=[-10, 283], dtick=50, fmt="",
         ylab="Allocated PRBs", title="Resource allocation", ydx=44,
         cap="(d) Scenario 12", capx=1238, capy=306, legx=1390.7, legy=236, top=True, avg=AVG_D,
         series=[(X_CONST, D_TD3, None), (D_PPO_X, D_PPO, D_PPO_SD), (X_TOPK, D_KBRL, D_KBRL_SD),
                 (X_COARSE, D_MARS, D_MARS_SD), (X_COARSE, D_CMARS, D_CMARS_SD)]),
    dict(L=51.7, R=340, T=340.7, B=556.7, yr=[-0.55, 12.1], dtick=2, fmt="",
         ylab="SLA violation", title="SLA violation", ydx=36,
         cap="(e) Scenario 9", capx=182, capy=621, legx=335, legy=346.7, top=False, avg=AVG_E,
         series=[(X_FINE, E_TD3, E_TD3_SD), (X_MID, E_PPO, E_PPO_SD), (X_FINE, E_KBRL, E_KBRL_SD),
                 (X_MID, E_MARS, E_MARS_SD), (X_MID, E_CMARS, E_CMARS_SD)]),
    dict(L=403.3, R=692.7, T=341.7, B=556.7, yr=[-0.52, 11.38], dtick=2, fmt="",
         ylab="SLA violation", title="SLA violation", ydx=36,
         cap="(f) Scenario 10", capx=536, capy=621, legx=686.7, legy=346, top=False, avg=AVG_F,
         series=[(X_FINE, F_TD3, F_TD3_SD), (X_MID, F_PPO, F_PPO_SD), (X_FINE, F_KBRL, F_KBRL_SD),
                 (X_MID, F_MARS, F_MARS_SD), (X_MID, F_CMARS, F_CMARS_SD)]),
    dict(L=766.7, R=1046, T=350.7, B=558.3, yr=[-0.68, 14.53], dtick=2.5, fmt=".1f",
         ylab="SLA violation", title="SLA violation", ydx=47,
         cap="(g) Scenario 11", capx=888, capy=621, legx=1039.3, legy=356.7, top=False, avg=AVG_G,
         series=[(X_FINE, G_TD3, G_TD3_SD), (X_MID, G_PPO, G_PPO_SD), (X_FINE, G_KBRL, G_KBRL_SD),
                 (X_MID, G_MARS, G_MARS_SD), (X_MID, G_CMARS, G_CMARS_SD)]),
    dict(L=1118.3, R=1397.3, T=350.7, B=558.3, yr=[-0.68, 14.3], dtick=2.5, fmt=".1f",
         ylab="SLA violation", title="SLA violation", ydx=47.5,
         cap="(h) Scenario 12", capx=1238, capy=621, legx=1391.7, legy=356, top=False, avg=AVG_H,
         series=[(X_FINE, H_TD3, H_TD3_SD), (X_MID, H_PPO, H_PPO_SD), (X_FINE, H_KBRL, H_KBRL_SD),
                 (X_MID, H_MARS, H_MARS_SD), (X_MID, H_CMARS, H_CMARS_SD)]),
]

problems = []
for pi, p in enumerate(PANELS):
    for si, (xs, ys, sd) in enumerate(p["series"]):
        if len(xs) != len(ys) or (sd is not None and len(sd) != len(ys)):
            problems.append((pi, METHODS[si], len(xs), len(ys), None if sd is None else len(sd)))
if problems:
    raise SystemExit("length mismatch: %s" % problems)

fig = go.Figure()
layout = dict(width=W, height=H, margin=dict(l=0, r=0, t=0, b=0),
              paper_bgcolor="white", plot_bgcolor="white", showlegend=True,
              font=dict(family=SERIF, color="#222"))
annotations = []

for i, p in enumerate(PANELS):
    n = "" if i == 0 else str(i + 1)
    xa, ya = "x" + n, "y" + n
    leg = "legend" + n
    clip0 = not p["top"]
    # shaded bands first (below every line)
    for si, (xs, ys, sd) in enumerate(p["series"]):
        if sd is None:
            continue
        m = METHODS[si]
        up = [a + b for a, b in zip(ys, sd)]
        lo = [(max(0.0, a - b) if clip0 else a - b) for a, b in zip(ys, sd)]
        fig.add_trace(go.Scatter(x=list(xs) + list(xs)[::-1], y=up + lo[::-1],
                                 fill="toself", fillcolor=FILLS[m], line=dict(width=0),
                                 mode="lines", hoverinfo="skip", showlegend=False,
                                 xaxis=xa, yaxis=ya, legend=leg))
    # mean lines
    for si, (xs, ys, sd) in enumerate(p["series"]):
        m = METHODS[si]
        fig.add_trace(go.Scatter(x=xs, y=ys, mode="lines",
                                 line=dict(color=COLORS[m], width=1.4),
                                 name="%s (%s)" % (m, p["avg"][si]),
                                 xaxis=xa, yaxis=ya, legend=leg))

    axis_common = dict(showline=True, mirror=True, linecolor="#333", linewidth=1,
                       ticks="outside", ticklen=3.5, tickwidth=1, tickcolor="#333",
                       tickfont=dict(family=SERIF, size=15, color="#222"),
                       showgrid=True, gridcolor="#d6d6d6", griddash="3px,2px", gridwidth=0.8,
                       zeroline=False)
    layout["xaxis" + n] = dict(axis_common, domain=[p["L"] / W, p["R"] / W], anchor=ya,
                               range=[-2500, 52500], tickvals=X_TICKS, ticktext=X_TICK_LABELS,
                               ticklabelstandoff=-2)
    layout["yaxis" + n] = dict(axis_common, domain=[1 - p["B"] / H, 1 - p["T"] / H], anchor=xa,
                               range=p["yr"], tick0=0, dtick=p["dtick"], tickformat=p["fmt"])
    layout[leg] = dict(x=p["legx"] / W, y=1 - p["legy"] / H, xref="paper", yref="paper",
                       xanchor="right", yanchor="bottom" if p["top"] else "top",
                       bgcolor="rgba(255,255,255,0.85)", bordercolor="#cccccc", borderwidth=1,
                       font=dict(family=SERIF, size=11.5, color="#222"), itemwidth=30,
                       tracegroupgap=0)
    cx = (p["L"] + p["R"]) / 2 / W
    annotations.append(dict(text=p["title"], x=cx, y=1 - (p["T"] - 12) / H, xref="paper", yref="paper",
                            xanchor="center", yanchor="middle", showarrow=False,
                            font=dict(family=SERIF, size=17.5, color="#111")))
    annotations.append(dict(text="Iteration", x=cx, y=1 - (p["B"] + 33) / H, xref="paper", yref="paper",
                            xanchor="center", yanchor="middle", showarrow=False,
                            font=dict(family=SERIF, size=15, color="#111")))
    annotations.append(dict(text=p["ylab"], x=(p["L"] - p["ydx"]) / W, y=1 - (p["T"] + p["B"]) / 2 / H,
                            xref="paper", yref="paper", xanchor="center", yanchor="middle",
                            textangle=-90, showarrow=False,
                            font=dict(family=SERIF, size=15, color="#111")))
    annotations.append(dict(text=p["cap"], x=p["capx"] / W, y=1 - p["capy"] / H, xref="paper", yref="paper",
                            xanchor="center", yanchor="middle", showarrow=False,
                            font=dict(family=CAPFONT, size=19, color="#111")))

layout["annotations"] = annotations
fig.update_layout(**layout)
fig.write_html("out.html")
